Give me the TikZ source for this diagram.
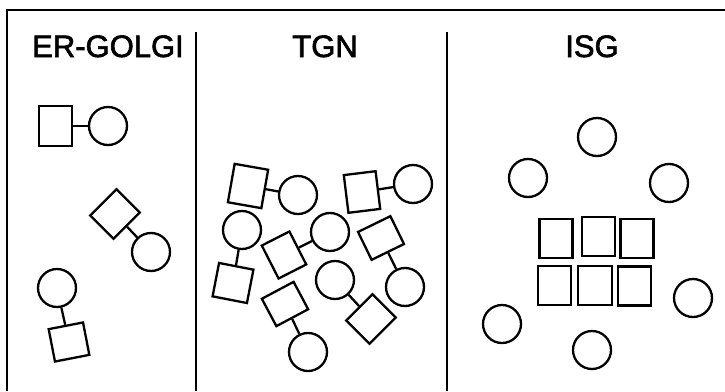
\documentclass[tikz,border=0pt]{standalone}
\usepackage{fontspec}
\setmainfont{Liberation Sans}
\newfontfamily\titlefont[FakeBold=2]{Liberation Sans}
\begin{document}
\begin{tikzpicture}[x=1pt,y=-1pt,
  box/.style={draw,line width=2.3pt,rectangle,inner sep=0pt,minimum width=33pt,minimum height=39pt},
  ball/.style={draw,line width=2.3pt,circle,inner sep=0pt,minimum size=38pt},
  link/.style={line width=2.3pt},
  frame/.style={line width=2.6pt},
  divider/.style={line width=2pt},
  title/.style={font=\titlefont\fontsize{31}{31}\selectfont,anchor=base,inner sep=0pt}]
\useasboundingbox (0,0) rectangle (725,391);
% frame
\draw[frame] (7,391) -- (7,10) -- (725,10);
\draw[divider] (196,32) -- (196,391);
\draw[divider] (447,32) -- (447,391);
% titles
\node[title] (t1) at (108,57) {ER-GOLGI};
\node[title] (t2) at (325,57) {TGN};
\node[title] (t3) at (592,57) {ISG};
% ER-GOLGI
\node[box,minimum width=33pt,minimum height=40pt] (s1) at (55.5,126) {};
\node[ball] (c1) at (108,126) {};
\draw[link] (s1) -- (c1);
\node[box,rotate=-45,minimum width=33pt,minimum height=37pt] (s2) at (115,214) {};
\node[ball] (c2) at (151,252) {};
\draw[link] (s2) -- (c2);
\node[ball] (c3) at (57,288) {};
\node[box,rotate=11,minimum width=35pt,minimum height=33pt] (s3) at (69,342) {};
\draw[link] (c3) -- (s3);
% TGN
\node[box,rotate=-10,minimum width=34pt,minimum height=39pt] (sA) at (248,186) {};
\node[ball] (cA) at (298,195) {};
\draw[link] (sA) -- (cA);
\node[box,rotate=7,minimum width=32pt,minimum height=38pt] (sB) at (362,192) {};
\node[ball] (cB) at (413,184) {};
\draw[link] (sB) -- (cB);
\node[ball] (cC) at (242,230) {};
\node[box,rotate=-11,minimum width=35pt,minimum height=34pt] (sC) at (233,283) {};
\draw[link] (cC) -- (sC);
\node[box,rotate=27,minimum width=31pt,minimum height=37pt] (sD) at (284,255) {};
\node[ball] (cD) at (330,232) {};
\draw[link] (sD) -- (cD);
\node[box,rotate=26,minimum width=36pt,minimum height=31pt] (sE) at (381,238) {};
\node[ball] (cE) at (405,287) {};
\draw[link] (sE) -- (cE);
\node[ball] (cF) at (335,280) {};
\node[box,rotate=45,minimum width=37pt,minimum height=33pt] (sF) at (371,319) {};
\draw[link] (cF) -- (sF);
\node[box,rotate=28,minimum width=36pt,minimum height=31pt] (sG) at (285,304) {};
\node[ball] (cG) at (308,352) {};
\draw[link] (sG) -- (cG);
% ISG
\node[ball] (i1) at (597,137) {};
\node[ball] (i2) at (528,178) {};
\node[ball] (i3) at (669,183) {};
\node[ball] (i4) at (502,324) {};
\node[ball] (i5) at (592,350) {};
\node[ball] (i6) at (693,298) {};
\node[box] (r1) at (556,238.5) {};
\node[box] (r2) at (598.5,236.5) {};
\node[box] (r3) at (637,238.5) {};
\node[box] (r4) at (554.5,285.5) {};
\node[box,minimum width=34pt] (r5) at (595,285.5) {};
\node[box] (r6) at (634.5,286) {};
\end{tikzpicture}
\end{document}
